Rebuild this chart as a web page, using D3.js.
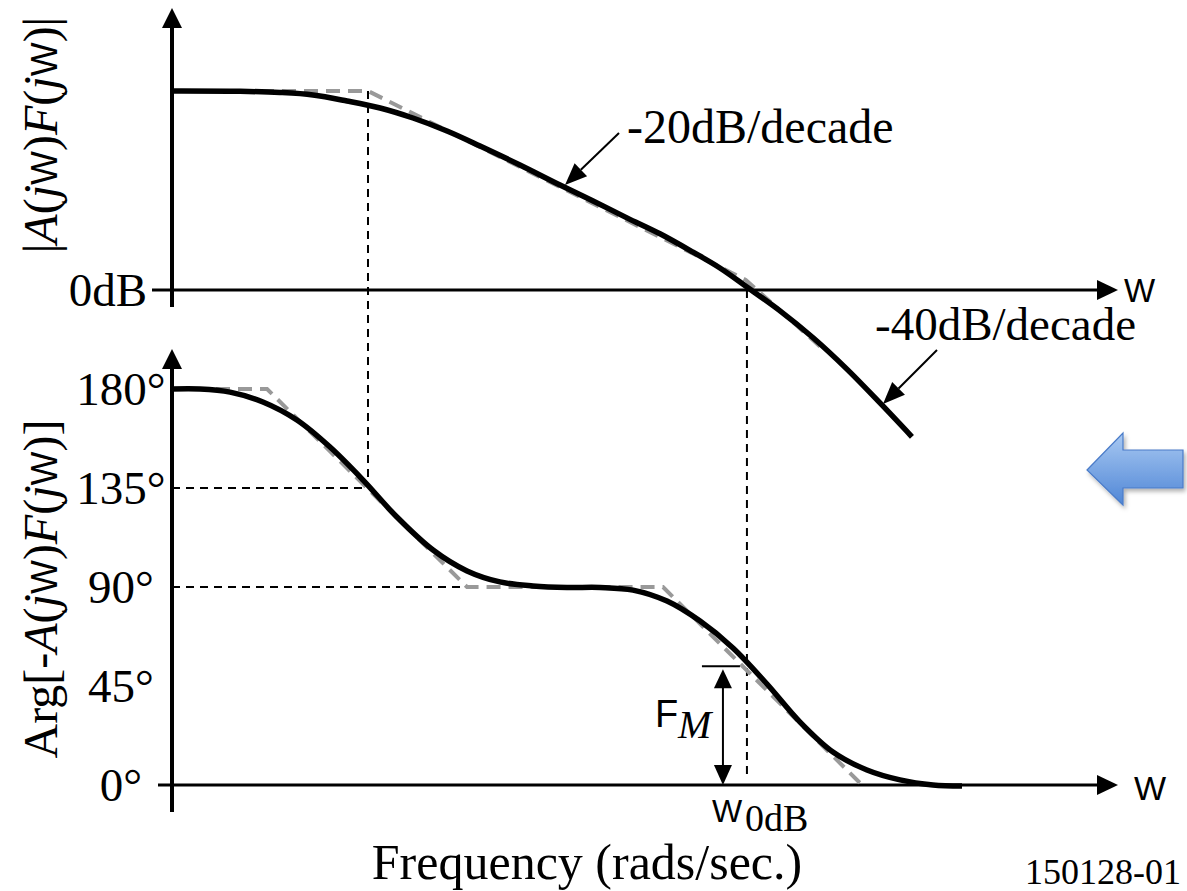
<!DOCTYPE html>
<html><head><meta charset="utf-8">
<script src="https://cdn.jsdelivr.net/npm/d3@7"></script>
<style>body{margin:0;background:#fff;} svg{display:block}</style>
</head><body>
<svg id="c" width="1187" height="891"></svg>
<script>
// ---- data (x in log10 of frequency, decades) ----
const magLogW = [0, 0.36, 0.571, 0.746, 0.926, 1.101, 1.275, 1.455, 1.630, 1.841, 2.053, 2.228, 2.407, 2.582, 2.757, 2.899, 3.042, 3.217, 3.392, 3.571, 3.746, 3.915];
const magDb   = [40, 39.94, 39.7, 39.2, 37.99, 36.58, 34.57, 31.96, 28.94, 25.13, 21.1, 17.9, 14.5, 11.3, 7.6, 4.42, 0.6, -4.2, -9.6, -15.9, -22.7, -29.5];
const magAsymLogW = [0, 1.037, 3.037, 3.439];
const magAsymDb   = [40, 40, 2.0, -11.7];
const phaseLogW = [0, 0.148, 0.307, 0.481, 0.661, 0.836, 1.011, 1.190, 1.381, 1.561, 1.735, 1.910, 2.090, 2.265, 2.439, 2.619, 2.794, 2.968, 3.148, 3.323, 3.497, 3.677, 3.852, 4.026, 4.180];
const phaseDeg  = [180, 180, 178.6, 174.1, 165.9, 153.6, 138.6, 121.8, 106.8, 97.3, 92.3, 90.5, 89.8, 89.8, 88.6, 83.6, 74.5, 62.3, 45.9, 28.6, 15.0, 6.8, 2.3, 0, -0.5];
const phaseAsymLogW = [0, 0.503, 1.561, 2.598, 3.651];
const phaseAsymDeg  = [180, 180, 90, 90, 0];
const phaseTicks = [0, 45, 90, 135, 180];
const phaseTickLabels = ["0°", "45°", "90°", "135°", "180°"];
const magTicks = [0];
const magTickLabels = ["0dB"];
const poleLogW = 1.037;
const crossLogW = 3.042;
const phaseMarginDeg = 54;

const svg = d3.select("#c");
const SERIF = "'Liberation Serif','Times New Roman',serif";
const SANS = "'Liberation Sans',Arial,sans-serif";

const x = d3.scaleLinear().domain([0, 5]).range([172, 1117]);
const yMag = d3.scaleLinear().domain([0, 40]).range([290, 91]);
const yPh = d3.scaleLinear().domain([0, 180]).range([785, 389]);

// defs
const defs = svg.append("defs");
const grad = defs.append("linearGradient").attr("id", "blueG").attr("x1", 0).attr("y1", 0).attr("x2", 0).attr("y2", 1);
grad.append("stop").attr("offset", "0%").attr("stop-color", "#a9c9f2");
grad.append("stop").attr("offset", "100%").attr("stop-color", "#4f86d6");
const filt = defs.append("filter").attr("id", "sh").attr("x", "-20%").attr("y", "-20%").attr("width", "150%").attr("height", "150%");
filt.append("feDropShadow").attr("dx", 2).attr("dy", 3).attr("stdDeviation", 2).attr("flood-color", "#000").attr("flood-opacity", 0.3);

// ---- guide dashed lines (thin black) ----
const guide = svg.append("g").attr("stroke", "#000").attr("stroke-width", 2).attr("stroke-dasharray", "8,6").attr("fill", "none");
guide.append("line").attr("x1", x(poleLogW)).attr("x2", x(poleLogW)).attr("y1", yMag(40)).attr("y2", yPh(135));
guide.append("line").attr("x1", x(0)).attr("x2", x(poleLogW)).attr("y1", yPh(135)).attr("y2", yPh(135));
guide.append("line").attr("x1", x(0)).attr("x2", x(1.561)).attr("y1", yPh(90)).attr("y2", yPh(90));
guide.append("line").attr("x1", x(crossLogW)).attr("x2", x(crossLogW)).attr("y1", yMag(0)).attr("y2", yPh(3.6));

// ---- axes ----
const ax = svg.append("g").attr("stroke", "#000").attr("fill", "none");
ax.append("line").attr("x1", 172).attr("x2", 172).attr("y1", 24).attr("y2", 307).attr("stroke-width", 4);
ax.append("line").attr("x1", 152).attr("x2", 1100).attr("y1", yMag(0)).attr("y2", yMag(0)).attr("stroke-width", 3);
ax.append("line").attr("x1", 172).attr("x2", 172).attr("y1", 366).attr("y2", 812).attr("stroke-width", 4);
ax.append("line").attr("x1", 158).attr("x2", 1100).attr("y1", yPh(0)).attr("y2", yPh(0)).attr("stroke-width", 3);

const heads = svg.append("g").attr("fill", "#000");
function triUp(cx, tip, len, hw) { return `M${cx},${tip}L${cx + hw},${tip + len}L${cx - hw},${tip + len}Z`; }
function triRight(tip, cy, len, hw) { return `M${tip},${cy}L${tip - len},${cy - hw}L${tip - len},${cy + hw}Z`; }
heads.append("path").attr("d", triUp(172, 8, 20, 10));
heads.append("path").attr("d", triUp(172, 349, 20, 10));
heads.append("path").attr("d", triRight(1118, yMag(0), 21, 10));
heads.append("path").attr("d", triRight(1118, yPh(0), 21, 10));

// tick labels via d3 axes
const magAxis = d3.axisLeft(yMag).tickValues(magTicks).tickFormat((d, i) => magTickLabels[i]).tickSize(0).tickPadding(25);
const gMag = svg.append("g").attr("transform", "translate(172,0)").call(magAxis);
gMag.select(".domain").remove();
gMag.selectAll("text").attr("font-family", SERIF).attr("font-size", 47).attr("fill", "#000").attr("dy", "0.32em");

const phAxis = d3.axisLeft(yPh).tickValues(phaseTicks).tickFormat((d, i) => phaseTickLabels[i]).tickSize(0);
const gPh = svg.append("g").attr("transform", "translate(172,0)").call(phAxis);
gPh.select(".domain").remove();
gPh.selectAll("text").attr("font-family", SERIF).attr("font-size", 47).attr("fill", "#000")
  .attr("text-anchor", "middle").attr("x", -51).attr("dy", "0.34em");

// ---- asymptotes (gray dashed) ----
const lineMag = d3.line().x(d => x(d[0])).y(d => yMag(d[1]));
const linePh = d3.line().x(d => x(d[0])).y(d => yPh(d[1]));
svg.append("path").attr("d", lineMag(magAsymLogW.map((v, i) => [v, magAsymDb[i]])))
  .attr("fill", "none").attr("stroke", "#999").attr("stroke-width", 4).attr("stroke-dasharray", "14,8");
svg.append("path").attr("d", linePh(phaseAsymLogW.map((v, i) => [v, phaseAsymDeg[i]])))
  .attr("fill", "none").attr("stroke", "#999").attr("stroke-width", 4).attr("stroke-dasharray", "14,8");

// ---- curves ----
const smooth = d3.curveCatmullRom.alpha(0.5);
svg.append("path").attr("d", lineMag.curve(smooth)(magLogW.map((v, i) => [v, magDb[i]])))
  .attr("fill", "none").attr("stroke", "#000").attr("stroke-width", 5.5);
svg.append("path").attr("d", linePh.curve(smooth)(phaseLogW.map((v, i) => [v, phaseDeg[i]])))
  .attr("fill", "none").attr("stroke", "#000").attr("stroke-width", 5.5);

// ---- phase margin ----
const xc = x(crossLogW);
const yPM = yPh(phaseMarginDeg);
svg.append("line").attr("x1", xc - 45).attr("x2", xc - 7).attr("y1", yPM).attr("y2", yPM).attr("stroke", "#000").attr("stroke-width", 2);
svg.append("line").attr("x1", xc - 24).attr("x2", xc - 24).attr("y1", yPM + 20).attr("y2", yPh(0) - 18).attr("stroke", "#000").attr("stroke-width", 2);
heads.append("path").attr("d", `M${xc - 24},${yPM + 3}L${xc - 15},${yPM + 22}L${xc - 33},${yPM + 22}Z`);
heads.append("path").attr("d", `M${xc - 24},${yPh(0)}L${xc - 15},${yPh(0) - 20}L${xc - 33},${yPh(0) - 20}Z`);

// ---- annotation arrows ----
function annArrow(x1, y1, x2, y2) {
  const a = Math.atan2(y2 - y1, x2 - x1), L = 22, W = 9;
  const bx = x2 - L * Math.cos(a), by = y2 - L * Math.sin(a);
  svg.append("line").attr("x1", x1).attr("y1", y1).attr("x2", bx).attr("y2", by).attr("stroke", "#000").attr("stroke-width", 2);
  svg.append("path").attr("fill", "#000")
    .attr("d", `M${x2},${y2}L${bx + W * Math.sin(a)},${by - W * Math.cos(a)}L${bx - W * Math.sin(a)},${by + W * Math.cos(a)}Z`);
}
annArrow(619, 133, 565, 185);
annArrow(937, 350, 883, 404);

// ---- texts ----
function txt(t, xx, yy, size, fam, opts = {}) {
  const e = svg.append("text").attr("x", xx).attr("y", yy).attr("font-size", size).attr("font-family", fam).attr("fill", "#000").text(t);
  if (opts.anchor) e.attr("text-anchor", opts.anchor);
  if (opts.italic) e.attr("font-style", "italic");
  return e;
}
txt("-20dB/decade", 627, 143, 48, SERIF);
txt("-40dB/decade", 875, 340, 47, SERIF);
txt("W", 1124, 302, 33, SANS);
txt("W", 1134, 800, 34, SANS);
txt("W", 712, 822, 32, SANS);
txt("0dB", 745, 831, 38, SERIF);
txt("F", 655, 727, 38, SANS);
txt("M", 678, 738, 40, SERIF, { italic: true });
txt("Frequency (rads/sec.)", 587, 879, 50, SERIF, { anchor: "middle" });
txt("150128-01", 1181, 884, 36, SERIF, { anchor: "end" });

function yLabel(parts, cx, cy) {
  const t = svg.append("text").attr("transform", `translate(${cx},${cy}) rotate(-90)`)
    .attr("text-anchor", "middle").attr("font-family", SERIF).attr("font-size", 48).attr("fill", "#000");
  parts.forEach(p => {
    const s = t.append("tspan").text(p[0]);
    if (p[1] === "i") s.attr("font-style", "italic");
    if (p[1] === "w") s.attr("font-family", SANS).attr("font-size", 36);
  });
}
yLabel([["|", ""], ["A", "i"], ["(", ""], ["j", "i"], ["W", "w"], [")", ""], ["F", "i"], ["(", ""], ["j", "i"], ["W", "w"], [")|", ""]], 57, 135);
yLabel([["Arg[-", ""], ["A", "i"], ["(", ""], ["j", "i"], ["W", "w"], [")", ""], ["F", "i"], ["(", ""], ["j", "i"], ["W", "w"], [")]", ""]], 57, 589);

// ---- blue arrow ----
svg.append("path").attr("d", "M1087,470L1123,433L1123,450L1183,450L1183,488L1123,488L1123,505Z")
  .attr("fill", "url(#blueG)").attr("stroke", "#4a7bc8").attr("stroke-width", 1.2).attr("filter", "url(#sh)");
</script>
</body></html>
